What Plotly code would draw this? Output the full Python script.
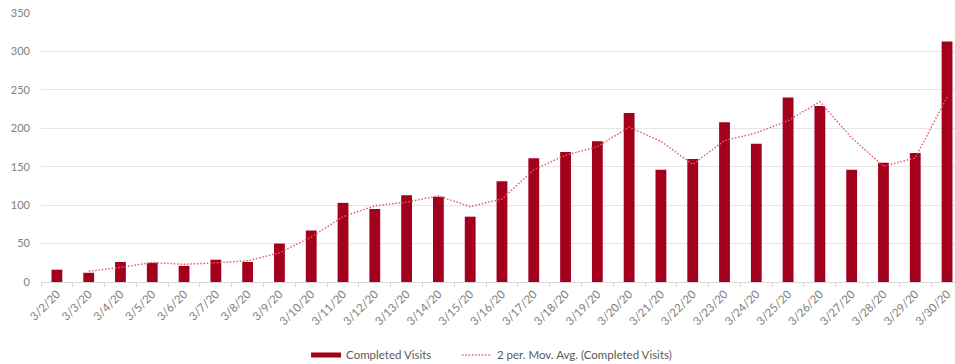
import plotly.graph_objects as go
import pandas as pd

dates = ["3/2/20", "3/3/20", "3/4/20", "3/5/20", "3/6/20", "3/7/20", "3/8/20", "3/9/20",
         "3/10/20", "3/11/20", "3/12/20", "3/13/20", "3/14/20", "3/15/20", "3/16/20",
         "3/17/20", "3/18/20", "3/19/20", "3/20/20", "3/21/20", "3/22/20", "3/23/20",
         "3/24/20", "3/25/20", "3/26/20", "3/27/20", "3/28/20", "3/29/20", "3/30/20"]
completed_visits = [16, 12, 26, 25, 21, 29, 26, 50, 67, 103, 95, 113, 111, 85, 131,
                    161, 169, 183, 220, 146, 160, 208, 180, 240, 229, 146, 155, 168, 313]
y_ticks = [0, 50, 100, 150, 200, 250, 300, 350]

# 2-period moving average trendline (as in Excel)
mov_avg = pd.Series(completed_visits).rolling(2).mean().tolist()

bar_color = "#A3001B"
line_color = "#E0606A"
text_color = "#808080"

fig = go.Figure()
fig.add_trace(go.Bar(
    x=dates, y=completed_visits, name="Completed Visits",
    marker=dict(color=bar_color, line=dict(width=0)), width=0.34,
    showlegend=False, legendgroup="cv",
))
# legend swatch for the bars (wide flat rectangle, as in the original)
fig.add_trace(go.Scatter(
    x=[None], y=[None], name="Completed Visits" + "\u00a0" * 7, mode="lines",
    line=dict(color=bar_color, width=5), legendgroup="cv",
))
fig.add_trace(go.Scatter(
    x=dates, y=mov_avg, name="2 per. Mov. Avg. (Completed Visits)",
    mode="lines", line=dict(color=line_color, width=1.5, dash="1.5px,1.8px"),
))

fig.update_layout(
    width=955, height=364,
    margin=dict(l=41, r=0, t=13, b=82, autoexpand=False),
    paper_bgcolor="white", plot_bgcolor="white",
    font=dict(family="Lato, 'Open Sans', sans-serif", size=11, color=text_color),
    showlegend=True,
    legend=dict(orientation="h", x=0.29, xanchor="left", y=-0.271, yanchor="middle",
                font=dict(size=11.5, color="#595959"),
                traceorder="normal"),
    bargap=0.6,
)
fig.update_xaxes(
    type="category", range=[-0.5, 28.25], tickangle=-45, automargin=False,
    showgrid=False, showline=True, linecolor="#D9D9D9", linewidth=1,
    ticks="outside", tickson="boundaries", ticklen=4, tickcolor="#D9D9D9",
    tickfont=dict(size=11.5, color=text_color),
)
fig.update_yaxes(
    range=[0, 350], tickvals=y_ticks, showgrid=True, gridcolor="#E6E6E6", gridwidth=1,
    zeroline=False, showline=False, ticks="", ticklabelstandoff=10, automargin=False,
    tickfont=dict(size=11, color=text_color),
)

fig.write_html("out.html")
